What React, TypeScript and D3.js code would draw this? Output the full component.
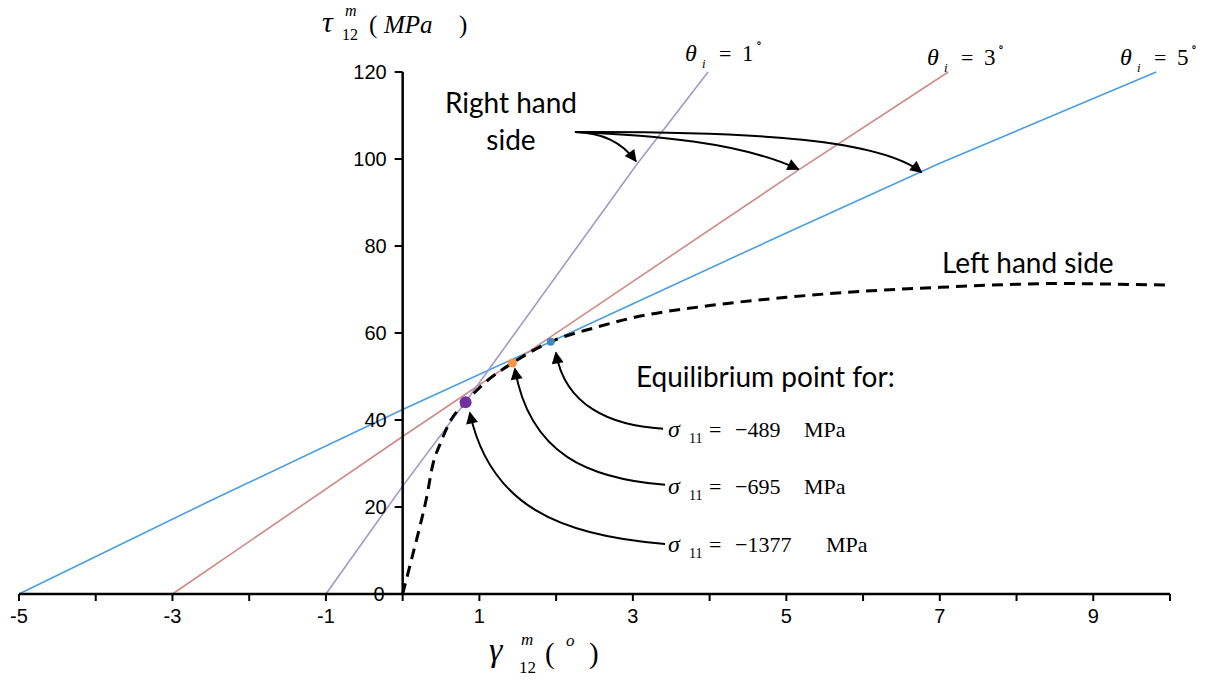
import React from "react";
import * as d3 from "d3";

// ---- data ----
const xTicks = [-5, -4, -3, -2, -1, 0, 1, 2, 3, 4, 5, 6, 7, 8, 9, 10];
const xTickLabels = [-5, -3, -1, 1, 3, 5, 7, 9];
const yTicks = [0, 20, 40, 60, 80, 100, 120];

// Right hand side lines (theta_i = 1, 3, 5 deg)
const theta1X = [-1, 0, 0.82, 3.04, 3.98];
const theta1Y = [0, 24.8, 44.2, 98.5, 120];
const theta3X = [-3, 0, 1.43, 5.16, 7.11];
const theta3Y = [0, 36.2, 53.2, 97.5, 120];
const theta5X = [-5, -2.5, 0, 1.93, 5, 7, 9.82];
const theta5Y = [0, 21.5, 42.4, 58, 83, 99, 120];

// Left hand side (dashed)
const lhsX = [0, 0.12, 0.22, 0.31, 0.39, 0.5, 0.61, 0.82, 1.1, 1.43, 1.93, 2.5, 3, 4, 5, 6, 7, 8, 8.5, 9, 10];
const lhsY = [0, 8.3, 15.2, 22, 29.5, 35, 39.4, 44.1, 49, 53.1, 58, 61.2, 63.5, 66.3, 68.2, 69.6, 70.5, 71.2, 71.4, 71.3, 71.0];

// Equilibrium points
const eqX = [0.82, 1.43, 1.93];
const eqY = [44.1, 53.1, 58.0];
const eqColors = ["#7030a0", "#f79646", "#3f89c9"];
const eqR = [6, 4.5, 4];

const W = 1206, H = 682;
const x = d3.scaleLinear().domain([-5, 10]).range([19, 1170]);
const y = d3.scaleLinear().domain([0, 120]).range([594, 72]);

const zip = (xs: number[], ys: number[]) => xs.map((v, i) => [v, ys[i]] as [number, number]);
const lineGen = d3.line<[number, number]>().x(d => x(d[0])).y(d => y(d[1]));
const smoothGen = d3.line<[number, number]>().x(d => x(d[0])).y(d => y(d[1])).curve(d3.curveMonotoneX);

// annotation arrows in data coordinates: [start, c1, c2, end]
const rhsArrows: [number, number][][] = [
  [[2.245, 106.2], [2.6, 106.0], [2.85, 104.0], [3.04, 99.5]],
  [[2.245, 106.2], [3.225, 105.5], [4.4, 103.9], [5.157, 97.65]],
  [[2.245, 106.2], [4.66, 106.4], [6.227, 104.3], [6.76, 96.96]],
];
const eqArrows: [number, number][][] = [
  [[3.394, 38.0], [2.702, 38.69], [2.115, 43.3], [1.997, 55.5]],
  [[3.42, 25.1], [2.441, 26.5], [1.658, 31.8], [1.462, 51.8]],
  [[3.42, 11.5], [2.05, 13.36], [1.136, 20.27], [0.875, 41.7]],
];
const cpath = (p: [number, number][]) =>
  `M${x(p[0][0])},${y(p[0][1])} C${x(p[1][0])},${y(p[1][1])} ${x(p[2][0])},${y(p[2][1])} ${x(p[3][0])},${y(p[3][1])}`;

const sigmaLabels = ["\u2212489", "\u2212695", "\u22121377"];

const serif = "'Liberation Serif', 'DejaVu Serif', serif";
const sans = "'Liberation Sans', Arial, sans-serif";
const cal = "Lato, 'Open Sans', sans-serif";

export default function App() {
  return (
    <svg width={W} height={H} style={{ position: "absolute", left: 0, top: 0, background: "#fff" }}>
      <defs>
        <marker id="ah" viewBox="0 0 10 10" refX="9" refY="5" markerUnits="userSpaceOnUse"
          markerWidth="15" markerHeight="12" orient="auto">
          <path d="M0,0 L10,5 L0,10 z" fill="#000" />
        </marker>
      </defs>

      {/* colored lines */}
      <path d={lineGen(zip(theta5X, theta5Y)) || ""} fill="none" stroke="#4a9ee0" strokeWidth={1.6} />
      <path d={lineGen(zip(theta3X, theta3Y)) || ""} fill="none" stroke="#d08a86" strokeWidth={1.6} />
      <path d={lineGen(zip(theta1X, theta1Y)) || ""} fill="none" stroke="#a597c9" strokeWidth={1.6} />

      {/* dashed LHS */}
      <path d={smoothGen(zip(lhsX, lhsY)) || ""} fill="none" stroke="#000" strokeWidth={3}
        strokeDasharray="11,7" />

      {/* axes */}
      <line x1={x(-5)} x2={x(10)} y1={y(0)} y2={y(0)} stroke="#000" strokeWidth={2.5} />
      {xTicks.map(t => (
        <line key={"xt" + t} x1={x(t)} x2={x(t)} y1={y(0)} y2={y(0) + 7} stroke="#000" strokeWidth={2} />
      ))}
      {xTickLabels.map(t => (
        <text key={"xl" + t} x={x(t)} y={y(0) + 29} textAnchor="middle" fontFamily={sans} fontSize={20} fill="#000">
          {t}
        </text>
      ))}
      <line x1={x(0)} x2={x(0)} y1={y(0)} y2={y(120)} stroke="#000" strokeWidth={2.5} />
      {yTicks.map(t => (
        <line key={"yt" + t} x1={x(0) - 8} x2={x(0)} y1={y(t)} y2={y(t)} stroke="#000" strokeWidth={2} />
      ))}
      {yTicks.map(t => (
        <text key={"yl" + t} x={t === 0 ? x(0) - 18 : x(0) - 16} y={y(t) + 7} textAnchor="end" fontFamily={sans} fontSize={20} fill="#000">
          {t}
        </text>
      ))}

      {/* equilibrium points */}
      {eqX.map((v, i) => (
        <circle key={"eq" + i} cx={x(v)} cy={y(eqY[i])} r={eqR[i]} fill={eqColors[i]} />
      ))}

      {/* arrows */}
      {rhsArrows.map((p, i) => (
        <path key={"ra" + i} d={cpath(p)} fill="none" stroke="#000" strokeWidth={2} markerEnd="url(#ah)" />
      ))}
      {eqArrows.map((p, i) => (
        <path key={"ea" + i} d={cpath(p)} fill="none" stroke="#000" strokeWidth={2} markerEnd="url(#ah)" />
      ))}

      {/* annotation texts */}
      <text x={511} y={113} textAnchor="middle" fontFamily={cal} fontSize={28}>Right hand</text>
      <text x={511} y={150} textAnchor="middle" fontFamily={cal} fontSize={28}>side</text>
      <text x={942} y={273} fontFamily={cal} fontSize={28}>Left hand side</text>
      <text x={636} y={387} fontFamily={cal} fontSize={28}>Equilibrium point for:</text>

      {sigmaLabels.map((s, i) => {
        const by = [437, 494, 552][i];
        return (
          <g key={"sg" + i} fontFamily={serif} fill="#000">
            <text x={668} y={by} fontSize={24} fontStyle="italic">σ</text>
            <text x={689} y={by + 6} fontSize={14}>11</text>
            <text x={709} y={by} fontSize={22}>=</text>
            <text x={735} y={by} fontSize={22}>{s}</text>
            <text x={i === 2 ? 826 : 804} y={by} fontSize={22}>MPa</text>
          </g>
        );
      })}

      {/* theta labels */}
      {[
        { tx: 685, by: 61, v: "1" },
        { tx: 927, by: 65, v: "3" },
        { tx: 1120, by: 65, v: "5" },
      ].map((o, i) => (
        <g key={"th" + i} fontFamily={serif} fill="#000">
          <text x={o.tx} y={o.by} fontSize={24} fontStyle="italic">θ</text>
          <text x={o.tx + 17} y={o.by + 7} fontSize={13} fontStyle="italic">i</text>
          <text x={o.tx + 34} y={o.by} fontSize={22}>=</text>
          <text x={o.tx + 57} y={o.by} fontSize={23}>{o.v}</text>
          <text x={o.tx + 71} y={o.by - 14} fontSize={12}>∘</text>
        </g>
      ))}

      {/* y axis title */}
      <g fontFamily={serif} fill="#000">
        <text x={322} y={32} fontSize={30} fontStyle="italic">τ</text>
        <text x={345} y={16} fontSize={16} fontStyle="italic">m</text>
        <text x={342} y={40} fontSize={16}>12</text>
        <text x={369} y={33} fontSize={25}>(</text>
        <text x={384} y={33} fontSize={25} fontStyle="italic">MPa</text>
        <text x={459} y={33} fontSize={25}>)</text>
      </g>

      {/* x axis title */}
      <g fontFamily={serif} fill="#000">
        <text x={489} y={661} fontSize={34} fontStyle="italic">γ</text>
        <text x={521} y={645} fontSize={17} fontStyle="italic">m</text>
        <text x={519} y={673} fontSize={17}>12</text>
        <text x={545} y={663} fontSize={29}>(</text>
        <text x={566} y={646} fontSize={17} fontStyle="italic">o</text>
        <text x={589} y={663} fontSize={29}>)</text>
      </g>
    </svg>
  );
}
